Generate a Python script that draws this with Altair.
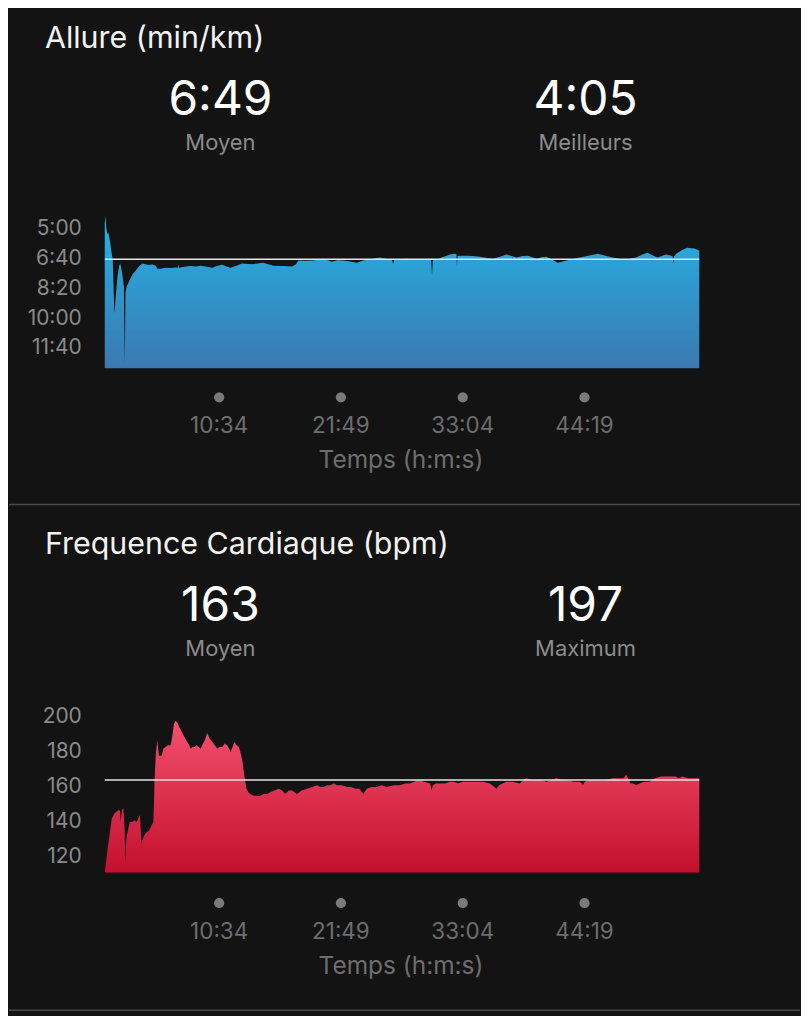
import altair as alt
import pandas as pd

BG = "#131313"
FONT = "Inter"

# ---------------- data ----------------
T_END = 3295  # seconds, end of activity
time_ticks = [634, 1309, 1984, 2659]
time_labels = ["10:34", "21:49", "33:04", "44:19"]

# Pace (seconds per km)
pace_t = [0, 4, 8, 14, 20, 28, 36, 44, 52, 55, 60, 70, 80, 86, 92, 100, 106, 111, 115, 122,
          132, 144, 158, 171, 190, 208, 225, 243, 262, 282, 292, 310, 335, 365, 395, 405, 409, 413,
          440, 476, 505, 531, 565, 596, 625, 651, 675, 697, 730, 761, 820, 879, 910, 935, 990,
          1038, 1060, 1073, 1110, 1156, 1185, 1211, 1235, 1259, 1290, 1322, 1360, 1397, 1432,
          1480, 1526, 1560, 1590, 1598, 1606, 1640, 1674, 1710, 1747, 1780, 1806, 1810, 1814,
          1818, 1840, 1870, 1895, 1920, 1941, 1949, 1952, 1955, 1975, 2006, 2040, 2079, 2115,
          2151, 2190, 2227, 2255, 2282, 2315, 2345, 2370, 2393, 2420, 2448, 2480, 2511, 2535,
          2559, 2600, 2632, 2680, 2732, 2775, 2815, 2850, 2890, 2920, 2946, 2980, 3008, 3035,
          3064, 3090, 3112, 3140, 3148, 3151, 3154, 3167, 3200, 3229, 3250, 3268, 3285, 3295]
pace_v = [290, 263, 300, 325, 320, 345, 380, 410, 560, 590, 540, 470, 430, 423, 440, 470, 500, 757, 520, 500,
          485, 470, 455, 447, 432, 423, 425, 428, 426, 430, 440, 440, 437, 438, 436, 437, 425, 437,
          434, 431, 433, 430, 434, 437, 430, 427, 433, 437, 430, 423, 425, 420, 426, 430, 431,
          433, 425, 413, 414, 413, 410, 407, 412, 417, 412, 413, 416, 420, 413,
          408, 403, 408, 410, 423, 410, 408, 407, 410, 410, 408, 407, 420, 463,
          412, 410, 402, 397, 392, 390, 392, 430, 398, 397, 397, 398, 400, 404,
          407, 400, 393, 398, 403, 398, 397, 402, 407, 402, 400, 410, 420, 417,
          413, 407, 403, 397, 390, 397, 403, 407, 410, 405, 403, 393, 387, 395,
          403, 397, 393, 397, 400, 425, 400, 390, 378, 370, 372, 373, 377, 380]
pace_tick_vals = [300, 400, 500, 600, 700]
pace_tick_labels = ["5:00", "6:40", "8:20", "10:00", "11:40"]
pace_avg = 409
pace_stats = ["6:49", "4:05"]
pace_stat_names = ["Moyen", "Meilleurs"]

# Heart rate (bpm)
hr_t = [0, 15, 39, 55, 66, 80, 85, 88, 96, 103, 110, 114, 120, 138, 153, 165, 177, 195, 203, 217,
        230, 245, 260, 269, 273, 276, 283, 291, 295, 300, 315, 325, 337, 350, 365, 374, 383, 392,
        402, 415, 430, 445, 457, 468, 476, 487, 498, 510, 521, 530, 540, 555, 568, 580, 596, 610,
        623, 637, 651, 665, 678, 690, 697, 708, 719, 730, 743, 752, 761, 768, 774, 785, 795, 807,
        825, 844, 862, 881, 900, 918, 940, 964, 983, 1001, 1020, 1038, 1052, 1065, 1092, 1121,
        1150, 1176, 1195, 1213, 1232, 1250, 1270, 1287, 1315, 1342, 1365, 1388, 1410, 1434, 1445,
        1453, 1480, 1508, 1535, 1563, 1600, 1637, 1665, 1692, 1715, 1738, 1770, 1803, 1808, 1812,
        1818, 1835, 1858, 1885, 1913, 1935, 1959, 1980, 2006, 2050, 2097, 2135, 2160, 2171, 2185,
        2205, 2227, 2260, 2300, 2320, 2337, 2365, 2393, 2420, 2448, 2475, 2503, 2530, 2559, 2600,
        2630, 2645, 2650, 2660, 2680, 2705, 2740, 2779, 2815, 2853, 2875, 2890, 2905, 2915, 2927,
        2945, 2964, 2990, 3019, 3050, 3084, 3110, 3139, 3165, 3180, 3203, 3230, 3258, 3280, 3295]
hr_v = [110, 123, 141, 144, 145, 146, 145, 139, 146, 147, 135, 116, 130, 139, 139, 140, 139, 143, 127, 131,
        133, 134, 137, 139, 150, 163, 178, 186, 182, 177, 177, 181, 182, 183, 183, 188, 195, 197,
        196, 193, 190, 187, 185, 183, 181, 182, 182, 183, 182, 181, 183, 186, 190, 187, 185, 183,
        181, 182, 182, 184, 183, 181, 179, 182, 185, 183, 182, 179, 175, 170, 165, 158, 156, 155,
        154, 154, 154, 155, 155, 156, 157, 158, 157, 155, 157, 157, 156, 155, 157, 158,
        159, 160, 159, 159, 160, 160, 161, 160, 160, 159, 159, 158, 158, 155, 157,
        158, 159, 159, 160, 159, 160, 160, 161, 161, 162, 163, 162, 161, 159, 157,
        160, 161, 161, 161, 162, 162, 161, 162, 162, 162, 162, 161, 159, 158, 160,
        161, 162, 162, 161, 163, 164, 163, 163, 163, 162, 163, 164, 163, 163, 162,
        162, 161, 160, 162, 163, 163, 163, 163, 164, 164, 164, 166, 163, 161, 161,
        160, 161, 162, 162, 164, 165, 165, 165, 165, 164, 165, 164, 164, 164, 164]
hr_tick_vals = [200, 180, 160, 140, 120]
hr_tick_labels = ["200", "180", "160", "140", "120"]
hr_avg = 163
hr_stats = ["163", "197"]
hr_stat_names = ["Moyen", "Maximum"]


# ---------------- helpers ----------------
def txt(s, x, y, size, color, align="center"):
    return alt.Chart(pd.DataFrame({"s": [s]})).mark_text(
        font=FONT, fontSize=size, color=color, align=align, baseline="alphabetic"
    ).encode(text="s:N", x=alt.value(x), y=alt.value(y))


def panel(title, times, vals, ydomain, yrange, base, ticks_v, ticks_l, avg,
          stats, names, c_top, c_bot, height):
    xs = alt.Scale(domain=[0, T_END], range=[96, 692])
    ys = alt.Scale(domain=ydomain, range=yrange)

    area = alt.Chart(pd.DataFrame({"t": times, "v": vals})).mark_area(
        interpolate="linear",
        color=alt.Gradient(
            gradient="linear",
            stops=[alt.GradientStop(color=c_top, offset=0),
                   alt.GradientStop(color=c_bot, offset=1)],
            x1=1, x2=1, y1=0, y2=1,
        ),
    ).encode(
        x=alt.X("t:Q", scale=xs, axis=None),
        y=alt.Y("v:Q", scale=ys, axis=None),
        y2=alt.datum(base),
    )

    avg_rule = alt.Chart(pd.DataFrame({"t0": [0], "t1": [T_END], "v": [avg]})).mark_rule(
        color="#e6e6e6", strokeWidth=1.5
    ).encode(
        x=alt.X("t0:Q", scale=xs, axis=None),
        x2="t1:Q",
        y=alt.Y("v:Q", scale=ys, axis=None),
    )

    ylab = alt.Chart(pd.DataFrame({"v": ticks_v, "lab": ticks_l})).mark_text(
        font=FONT, fontSize=21, color="#8a8a8a", align="right", baseline="middle", dy=2
    ).encode(
        y=alt.Y("v:Q", scale=ys, axis=None),
        x=alt.value(73),
        text="lab:N",
    )

    dots = alt.Chart(pd.DataFrame({"t": time_ticks})).mark_circle(
        size=105, color="#7a7a7a", opacity=1
    ).encode(x=alt.X("t:Q", scale=xs, axis=None), y=alt.value(389))

    xlab = alt.Chart(pd.DataFrame({"t": time_ticks, "lab": time_labels})).mark_text(
        font=FONT, fontSize=22.5, color="#6e6e6e", align="center", baseline="alphabetic"
    ).encode(x=alt.X("t:Q", scale=xs, axis=None), y=alt.value(425), text="lab:N")

    sep = alt.Chart(pd.DataFrame({"a": [0]})).mark_rule(
        color="#4a4a4a", strokeWidth=1.5
    ).encode(x=alt.value(0), x2=alt.value(793), y=alt.value(496.5))

    layers = [
        area, avg_rule, ylab, dots, xlab, sep,
        txt(title, 36, 39, 30.5, "#f2f2f2", align="left"),
        txt(stats[0], 212, 106, 48, "#ffffff"),
        txt(stats[1], 578, 106, 48, "#ffffff"),
        txt(names[0], 212, 141, 22, "#8c8c8c"),
        txt(names[1], 578, 141, 22, "#8c8c8c"),
        txt("Temps (h:m:s)", 393, 460, 24.5, "#6e6e6e"),
    ]
    return alt.layer(*layers).properties(width=793, height=height)


p1 = panel("Allure (min/km)", pace_t, pace_v, [235, 773], [198.5, 360], 773,
           pace_tick_vals, pace_tick_labels, pace_avg, pace_stats, pace_stat_names,
           "#25b3e6", "#3b78b0", 507)
p2 = panel("Frequence Cardiaque (bpm)", hr_t, hr_v, [110, 210], [358.5, 183.5], 110,
           hr_tick_vals, hr_tick_labels, hr_avg, hr_stats, hr_stat_names,
           "#f4506f", "#c3102e", 501)

chart = alt.vconcat(p1, p2, spacing=0).properties(padding=0).configure(
    background=BG
).configure_view(strokeWidth=0)

chart.save("out.html", embed_options={"renderer": "svg", "actions": False})
